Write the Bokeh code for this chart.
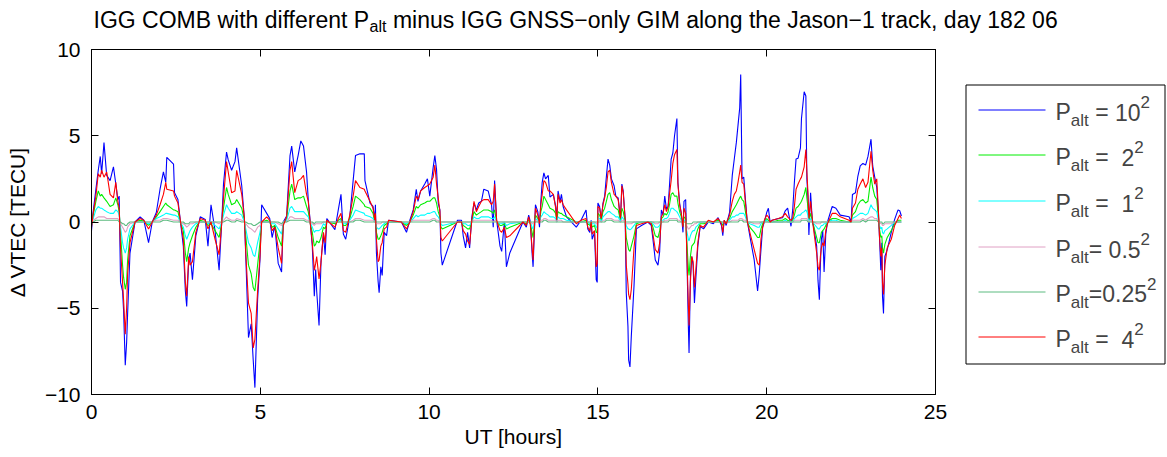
from bokeh.plotting import figure
from bokeh.models import Range1d, LinearAxis, FixedTicker, Label, CustomJSTickFormatter
from bokeh.layouts import row, column
from bokeh.core.properties import value
from bokeh.embed import file_html
from bokeh.resources import INLINE

FONT = "Liberation Sans"

# ---------------- data ----------------
ut_hours = [
    0.00, 0.05, 0.13, 0.20, 0.26, 0.30, 0.37, 0.45, 0.55, 0.65,
    0.72, 0.78, 0.82, 0.86, 0.92, 0.95, 1.00, 1.04, 1.07, 1.14,
    1.29, 1.44, 1.55, 1.69, 1.80, 1.92, 2.03, 2.13, 2.20, 2.23,
    2.43, 2.46, 2.56, 2.63, 2.72, 2.78, 2.82, 2.88, 2.92, 2.99,
    3.09, 3.22, 3.37, 3.45, 3.54, 3.66, 3.78, 3.86, 3.91, 4.00,
    4.05, 4.15, 4.25, 4.30, 4.45, 4.53, 4.57, 4.65, 4.73, 4.79,
    4.84, 4.92, 4.99, 5.04, 5.19, 5.28, 5.35, 5.43, 5.53, 5.63,
    5.68, 5.78, 5.88, 5.93, 6.02, 6.12, 6.20, 6.28, 6.37, 6.42,
    6.47, 6.54, 6.60, 6.64, 6.67, 6.74, 6.80, 6.87, 6.92, 6.97,
    7.21, 7.31, 7.39, 7.46, 7.53, 7.65, 7.75, 7.82, 7.95, 8.08,
    8.10, 8.25, 8.34, 8.39, 8.41, 8.44, 8.49, 8.52, 8.57, 8.61,
    8.67, 8.74, 8.80, 9.18, 9.33, 9.43, 9.53, 9.62, 9.67, 9.75,
    9.87, 9.95, 10.02, 10.12, 10.17, 10.22, 10.27, 10.32, 10.35, 10.39,
    10.84, 10.96, 11.01, 11.08, 11.14, 11.20, 11.26, 11.33, 11.40, 11.47,
    11.55, 11.62, 11.75, 11.85, 11.90, 11.94, 12.00, 12.10, 12.15, 12.23,
    12.29, 12.39, 12.78, 12.88, 12.95, 13.00, 13.05, 13.08, 13.12, 13.15,
    13.22, 13.27, 13.31, 13.35, 13.40, 13.45, 13.53, 13.58, 13.68, 13.75,
    13.78, 13.82, 13.88, 13.92, 13.97, 14.07, 14.36, 14.50, 14.65, 14.70,
    14.76, 14.80, 14.83, 14.90, 14.95, 14.98, 15.00, 15.05, 15.10, 15.15,
    15.20, 15.25, 15.30, 15.35, 15.40, 15.48, 15.53, 15.60, 15.67, 15.71,
    15.75, 15.81, 15.84, 15.89, 15.91, 15.95, 15.99, 16.07, 16.14, 16.29,
    16.48, 16.58, 16.63, 16.70, 16.78, 16.83, 16.88, 16.93, 16.98, 17.03,
    17.08, 17.12, 17.17, 17.22, 17.27, 17.34, 17.37, 17.42, 17.47, 17.52,
    17.55, 17.60, 17.63, 17.68, 17.70, 17.74, 17.78, 17.82, 17.86, 17.90,
    17.96, 18.03, 18.13, 18.27, 18.42, 18.56, 18.66, 18.70, 18.74, 18.80,
    18.90, 18.98, 19.04, 19.10, 19.15, 19.20, 19.23, 19.27, 19.32, 19.37,
    19.42, 19.50, 19.63, 19.73, 19.78, 19.83, 19.88, 19.93, 20.00, 20.05,
    20.10, 20.16, 20.35, 20.47, 20.55, 20.62, 20.72, 20.77, 20.82, 20.87,
    20.93, 21.00, 21.03, 21.11, 21.16, 21.19, 21.22, 21.25, 21.30, 21.35,
    21.40, 21.48, 21.52, 21.56, 21.59, 21.62, 21.66, 21.70, 21.75, 21.80,
    21.94, 22.05, 22.18, 22.44, 22.50, 22.54, 22.63, 22.70, 22.77, 22.85,
    22.93, 23.00, 23.09, 23.14, 23.20, 23.26, 23.31, 23.34, 23.38, 23.41,
    23.43, 23.46, 23.50, 23.57, 23.69, 23.79, 23.89, 23.94, 23.99,
]

# P_alt = 10^2 (blue)
d_p10 = [
    -0.5, 0.6, 1.9, 3.0, 3.8, 2.8, 4.6, 2.7, 2.4, 3.2,
    2.2, 1.3, 1.5, -3.5, -4.0, -5.1, -8.3, -7.0, -5.3, -1.8,
    0.0, 0.3, 0.1, -1.2, 0.0, 0.55, 1.9, 2.9, 2.3, 3.75,
    3.35, 1.7, 1.3, 0.1, -1.4, -4.0, -4.9, -2.2, -1.8, -3.35,
    -0.8, 0.3, 0.15, -1.4, 1.0, -0.5, -2.8, 0.1, 2.2, 4.05,
    3.6, 3.0, 3.5, 4.3, 2.1, 0.15, -2.0, -6.7, -5.9, -8.0,
    -9.6, -4.5, -2.2, 1.0, 0.5, 0.2, -0.9, -0.2, -2.4, -2.9,
    0.0, 0.35, 3.85, 4.4, 2.9, 3.85, 4.7, 4.4, 2.9, 1.3,
    0.2, -1.4, -4.3, -2.75, -4.0, -6.0, -2.2, -0.7, -1.9, 0.2,
    -0.45, 0.7, 1.6, -0.7, -1.0, 0.3, 2.4, 3.85, 3.95, 3.95,
    2.4, 1.1, 0.9, 0.1, 1.0, -1.8, -3.45, -4.1, -2.6, -3.1,
    -0.6, -0.8, 0.1, 0.0, -0.6, 0.1, 0.7, 1.9, 1.2, 1.8,
    2.2, 2.5, 1.5, 3.15, 3.85, 3.05, 1.1, 0.7, -1.8, -2.5,
    0.1, 0.1, -0.8, -1.5, -0.6, -1.5, 0.2, 1.1, 0.7, 1.1,
    1.2, 1.9, 1.8, 1.0, -0.3, 2.4, 0.1, -1.4, -1.7, 0.0,
    -2.6, -1.8, 0.0, -0.3, 0.4, 0.0, -1.8, -2.6, -0.5, 1.0,
    0.6, -0.3, 1.2, 2.3, 2.85, 2.5, 2.7, 1.45, 1.6, 0.9,
    0.1, 1.8, 1.2, 1.6, 0.9, 0.3, -0.3, 0.1, 0.7, -0.4,
    -0.6, 0.1, -1.0, -0.6, -3.35, -3.5, 1.1, 0.9, 0.1, 1.1,
    1.5, 2.6, 3.65, 3.3, 2.5, 2.1, 1.5, 1.4, 0.1, 2.2,
    1.8, 0.1, -4.1, -6.05, -8.0, -8.4, -6.6, -3.7, -0.4, -0.2,
    0.0, -0.2, -1.0, -2.2, -2.5, -1.7, 0.7, 0.4, 1.5, 0.75,
    0.9, 2.1, 3.65, 4.0, 5.0, 6.0, 2.3, 1.1, 0.5, -0.6,
    1.2, 1.3, -1.4, -6.1, -7.6, -3.2, -2.0, -2.5, -4.7, -3.3,
    -1.4, -0.25, -0.4, 0.0, -0.1, 0.25, -0.2, -0.8, 0.1, -0.2,
    0.55, 2.7, 3.65, 4.6, 5.6, 6.6, 8.55, 2.5, 2.6, 1.3,
    0.1, -0.8, -2.2, -4.0, -3.0, -1.6, -0.3, 0.0, 0.55, 0.8,
    0.0, 0.1, 0.2, 0.25, 0.65, 0.8, -0.25, 0.7, 2.3, 3.65,
    3.7, 4.3, 6.0, 7.55, 7.3, 2.5, 1.5, -0.75, 1.7, 0.1,
    -0.4, -1.4, -3.4, -4.5, -2.5, -1.0, -0.5, -2.9, -0.7, 0.0,
    0.9, 0.8, 0.4, 0.3, 0.0, 1.6, 1.7, 2.65, 3.25, 3.4,
    3.3, 3.8, 4.8, 3.25, 2.6, 2.0, 0.5, -0.85, -2.8, -1.2,
    -4.3, -5.3, -2.0, -1.6, -0.6, 0.15, 0.7, 0.65, 0.35,
]

# P_alt = 4^2 (red)
d_p4 = [
    -0.3, 0.5, 1.5, 2.8, 2.6, 3.0, 2.6, 2.9, 1.6, 1.4,
    2.3, 1.2, 0.8, -1.5, -3.5, -4.5, -6.5, -5.0, -3.0, -1.2,
    0.0, 0.2, 0.1, -0.4, 0.0, 0.4, 1.0, 1.6, 2.3, 1.9,
    1.8, 1.5, 1.1, 0.1, -1.0, -3.5, -4.3, -2.0, -2.5, -2.3,
    -0.6, 0.2, 0.1, -0.4, 0.0, -1.0, -1.9, 0.0, 1.4, 3.5,
    2.9, 1.7, 1.8, 3.0, 1.6, 0.2, -1.8, -4.7, -5.3, -7.3,
    -6.8, -4.0, -2.0, 0.0, 0.3, 0.1, -0.5, -0.3, -1.5, -2.4,
    -0.2, 0.3, 3.0, 3.5, 1.7, 2.4, 2.5, 2.7, 1.6, 1.2,
    0.1, -1.2, -2.8, -2.4, -2.0, -3.3, -2.3, -0.6, -1.2, 0.1,
    -0.3, 0.2, 0.5, -0.5, -0.6, 0.4, 1.5, 2.4, 2.0, 1.9,
    1.8, 1.2, 0.8, 0.1, 0.5, -1.0, -2.3, -2.2, -1.4, -1.2,
    -0.4, -0.3, 0.1, 0.0, -0.4, 0.0, 0.6, 1.5, 1.3, 1.8,
    2.0, 2.1, 2.2, 2.6, 3.3, 2.2, 1.4, 0.6, -0.9, -1.1,
    0.0, 0.0, -0.5, -0.7, -1.1, -1.3, 0.0, 1.2, 0.6, 0.9,
    1.2, 1.3, 1.3, 1.0, 1.2, 2.2, 0.1, -0.5, -0.6, -0.3,
    -0.9, -0.8, 0.0, -0.2, 0.3, -0.2, -1.5, -2.2, -0.3, 0.8,
    0.4, -0.1, 1.0, 1.6, 2.4, 2.3, 1.8, 1.8, 1.6, 0.8,
    0.1, 1.6, 1.1, 1.3, 1.0, 0.7, -0.1, 0.1, 0.2, -0.3,
    -0.5, 0.0, -0.7, -0.5, -2.6, -2.4, 0.9, 0.8, 0.2, 1.0,
    1.4, 2.0, 2.9, 3.0, 2.3, 1.6, 1.5, 1.3, 0.2, 2.1,
    1.7, 0.1, -2.5, -3.6, -4.2, -4.5, -3.9, -1.5, -0.2, -0.1,
    0.0, -0.1, -0.7, -1.6, -1.8, -1.2, 0.3, 0.5, 1.0, 0.6,
    0.9, 1.6, 2.4, 3.4, 3.9, 4.2, 2.2, 1.0, 0.5, -0.3,
    0.8, 0.5, -1.5, -4.8, -6.0, -3.5, -2.0, -2.3, -3.8, -2.8,
    -1.2, -0.2, -0.3, 0.1, 0.0, 0.2, -0.1, -0.6, 0.1, -0.1,
    0.4, 1.2, 1.6, 1.8, 2.3, 2.9, 3.3, 2.3, 2.2, 1.1,
    0.1, -0.6, -1.6, -2.4, -2.5, -1.0, -0.3, 0.1, 0.4, 0.3,
    0.0, 0.1, 0.2, 0.3, 0.5, 0.3, 0.1, 0.2, 0.9, 1.9,
    2.2, 2.5, 2.6, 3.2, 4.2, 2.9, 1.8, 0.2, 1.2, 0.2,
    -0.6, -1.8, -2.6, -2.8, -2.0, -1.5, -1.2, -1.4, -0.5, -0.1,
    0.5, 0.5, 0.3, 0.1, 0.0, 0.8, 1.1, 1.9, 2.2, 2.5,
    2.0, 2.3, 4.1, 3.0, 2.2, 2.5, 0.6, -0.8, -2.0, -1.5,
    -3.5, -4.2, -2.5, -1.5, -1.0, -0.2, 0.2, 0.4, 0.2,
]

# P_alt = 2^2 (green)
d_p2 = [
    -0.2, 0.4, 1.2, 1.8, 1.5, 1.6, 1.4, 1.2, 0.9, 1.0,
    1.4, 1.0, 0.6, -0.6, -2.5, -3.2, -3.9, -3.5, -2.2, -0.8,
    0.0, 0.1, 0.05, -0.2, 0.0, 0.3, 0.6, 0.9, 1.1, 1.0,
    0.7, 0.7, 0.6, 0.0, -0.5, -1.8, -2.3, -1.5, -1.2, -0.8,
    -0.3, 0.1, 0.0, -0.2, -0.1, -0.5, -0.9, 0.0, 0.8, 2.0,
    1.6, 1.0, 1.1, 1.3, 0.8, 0.1, -0.8, -2.5, -3.0, -3.8,
    -4.0, -2.5, -1.2, 0.0, 0.1, 0.0, -0.3, -0.2, -0.9, -1.4,
    -0.1, 0.2, 1.8, 2.2, 1.3, 1.4, 1.4, 1.5, 0.9, 0.6,
    0.0, -0.6, -1.4, -1.3, -1.1, -1.2, -0.9, -0.3, -0.4, 0.0,
    -0.1, 0.1, 0.2, -0.2, -0.2, 0.2, 0.9, 1.5, 1.3, 1.0,
    0.9, 0.8, 0.5, 0.0, 0.2, -0.6, -1.0, -1.0, -0.8, -0.6,
    -0.2, -0.1, 0.0, 0.0, -0.2, 0.0, 0.4, 0.9, 0.8, 1.0,
    1.1, 1.2, 1.2, 1.4, 1.4, 1.1, 0.6, 0.3, -0.3, -0.4,
    0.0, 0.0, -0.2, -0.3, -0.4, -0.4, 0.0, 0.6, 0.4, 0.5,
    0.6, 0.7, 0.7, 0.6, 0.5, 0.7, 0.0, -0.2, -0.2, -0.1,
    -0.4, -0.3, 0.0, -0.1, 0.1, -0.1, -0.6, -0.9, -0.1, 0.4,
    0.2, 0.0, 0.6, 0.9, 1.5, 1.3, 1.0, 0.8, 0.7, 0.5,
    0.1, 0.6, 0.5, 0.5, 0.4, 0.3, 0.0, 0.0, 0.1, -0.1,
    -0.2, 0.0, -0.3, -0.2, -0.6, -0.6, 0.5, 0.4, 0.1, 0.6,
    0.8, 1.2, 1.6, 1.7, 1.3, 0.9, 0.8, 0.7, 0.1, 0.8,
    0.6, 0.0, -0.9, -1.4, -1.6, -1.7, -1.4, -0.8, -0.1, 0.0,
    0.0, 0.0, -0.3, -0.8, -0.9, -0.5, 0.2, 0.3, 0.5, 0.4,
    0.6, 1.0, 1.6, 1.7, 1.5, 1.5, 1.1, 0.6, 0.3, -0.2,
    0.3, 0.2, -1.0, -2.7, -3.1, -2.0, -1.4, -1.3, -1.2, -0.8,
    -0.4, -0.1, -0.1, 0.0, 0.0, 0.1, 0.0, -0.2, 0.0, 0.0,
    0.2, 0.6, 0.8, 1.0, 1.2, 1.4, 1.5, 1.3, 1.2, 0.6,
    0.0, -0.3, -0.6, -0.9, -0.9, -0.4, -0.1, 0.0, 0.2, 0.1,
    0.0, 0.0, 0.1, 0.1, 0.2, 0.1, 0.0, 0.1, 0.4, 0.8,
    0.9, 1.1, 1.2, 1.6, 2.0, 1.4, 0.9, 0.1, 0.5, 0.1,
    -0.3, -0.9, -1.2, -1.2, -0.9, -0.6, -0.5, -0.4, -0.2, 0.0,
    0.2, 0.2, 0.1, 0.0, 0.0, 0.4, 0.6, 1.0, 1.2, 1.3,
    1.1, 1.2, 2.6, 2.0, 1.5, 1.3, 0.3, -0.4, -0.9, -0.8,
    -1.5, -1.8, -1.3, -0.9, -0.5, -0.1, 0.1, 0.1, 0.1,
]

# P_alt = 1^2 (cyan)
d_p1 = [
    -0.1, 0.2, 0.7, 0.9, 0.8, 0.8, 0.7, 0.6, 0.5, 0.5,
    0.7, 0.6, 0.4, -0.3, -1.2, -1.5, -1.8, -1.5, -1.0, -0.4,
    0.0, 0.0, 0.0, -0.1, 0.0, 0.2, 0.3, 0.4, 0.5, 0.5,
    0.4, 0.4, 0.3, 0.0, -0.3, -0.8, -1.0, -0.7, -0.5, -0.3,
    -0.1, 0.0, 0.0, -0.1, 0.0, -0.2, -0.4, 0.0, 0.4, 1.0,
    0.8, 0.5, 0.5, 0.6, 0.4, 0.0, -0.4, -1.2, -1.5, -1.9,
    -2.0, -1.2, -0.6, 0.0, 0.0, 0.0, -0.1, -0.1, -0.4, -0.7,
    0.0, 0.1, 0.8, 0.9, 0.6, 0.6, 0.6, 0.6, 0.4, 0.3,
    0.0, -0.3, -0.6, -0.5, -0.5, -0.5, -0.4, -0.1, -0.2, 0.0,
    0.0, 0.0, 0.1, -0.1, -0.1, 0.1, 0.4, 0.7, 0.6, 0.5,
    0.4, 0.3, 0.2, 0.0, 0.1, -0.3, -0.4, -0.4, -0.3, -0.2,
    -0.1, 0.0, 0.0, 0.0, -0.1, 0.0, 0.2, 0.4, 0.3, 0.4,
    0.4, 0.5, 0.5, 0.6, 0.6, 0.4, 0.3, 0.1, -0.1, -0.2,
    0.0, 0.0, -0.1, -0.1, -0.2, -0.2, 0.0, 0.3, 0.2, 0.2,
    0.3, 0.3, 0.3, 0.2, 0.2, 0.3, 0.0, -0.1, -0.1, 0.0,
    -0.2, -0.1, 0.0, 0.0, 0.0, 0.0, -0.3, -0.4, 0.0, 0.2,
    0.1, 0.0, 0.3, 0.4, 0.6, 0.5, 0.4, 0.3, 0.3, 0.2,
    0.0, 0.3, 0.2, 0.2, 0.2, 0.1, 0.0, 0.0, 0.0, 0.0,
    -0.1, 0.0, -0.1, -0.1, -0.3, -0.3, 0.2, 0.2, 0.0, 0.3,
    0.4, 0.5, 0.6, 0.6, 0.5, 0.4, 0.3, 0.3, 0.0, 0.3,
    0.2, 0.0, -0.2, -0.4, -0.4, -0.45, -0.4, -0.2, 0.0, 0.0,
    0.0, 0.0, -0.1, -0.3, -0.3, -0.2, 0.1, 0.1, 0.2, 0.2,
    0.3, 0.5, 0.8, 0.8, 0.7, 0.6, 0.5, 0.3, 0.1, -0.1,
    0.1, 0.1, -0.5, -1.0, -1.1, -0.8, -0.6, -0.5, -0.5, -0.3,
    -0.2, 0.0, 0.0, 0.0, 0.0, 0.0, 0.0, -0.1, 0.0, 0.0,
    0.1, 0.3, 0.3, 0.4, 0.4, 0.5, 0.5, 0.5, 0.5, 0.3,
    0.0, -0.1, -0.2, -0.3, -0.3, -0.1, 0.0, 0.0, 0.1, 0.0,
    0.0, 0.0, 0.0, 0.0, 0.1, 0.0, 0.0, 0.0, 0.2, 0.3,
    0.4, 0.4, 0.5, 0.6, 0.7, 0.6, 0.4, 0.0, 0.2, 0.0,
    -0.1, -0.3, -0.4, -0.4, -0.3, -0.2, -0.2, -0.1, -0.1, 0.0,
    0.1, 0.1, 0.0, 0.0, 0.0, 0.2, 0.3, 0.4, 0.5, 0.5,
    0.4, 0.5, 1.0, 0.8, 0.7, 0.6, 0.1, -0.2, -0.4, -0.3,
    -0.6, -0.7, -0.5, -0.4, -0.2, 0.0, 0.0, 0.0, 0.0,
]

# P_alt = 0.5^2 (pink)
d_p05 = [
    0.0, 0.1, 0.2, 0.3, 0.3, 0.3, 0.3, 0.2, 0.2, 0.2,
    0.2, 0.2, 0.1, -0.1, -0.3, -0.4, -0.6, -0.5, -0.3, -0.1,
    0.0, 0.0, 0.0, 0.0, 0.0, 0.1, 0.1, 0.2, 0.2, 0.2,
    0.1, 0.1, 0.1, 0.0, -0.1, -0.2, -0.3, -0.2, -0.1, -0.1,
    0.0, 0.0, 0.0, 0.0, 0.0, 0.0, -0.1, 0.0, 0.1, 0.3,
    0.2, 0.1, 0.1, 0.2, 0.1, 0.0, -0.1, -0.3, -0.4, -0.5,
    -0.6, -0.3, -0.2, 0.0, 0.0, 0.0, 0.0, 0.0, -0.1, -0.2,
    0.0, 0.0, 0.3, 0.3, 0.2, 0.2, 0.2, 0.2, 0.1, 0.1,
    0.0, -0.1, -0.2, -0.1, -0.1, -0.1, -0.1, 0.0, 0.0, 0.0,
    0.0, 0.0, 0.0, 0.0, 0.0, 0.0, 0.1, 0.2, 0.2, 0.1,
    0.1, 0.1, 0.1, 0.0, 0.0, -0.1, -0.1, -0.1, -0.1, 0.0,
    0.0, 0.0, 0.0, 0.0, 0.0, 0.0, 0.1, 0.1, 0.1, 0.1,
    0.1, 0.1, 0.1, 0.2, 0.2, 0.1, 0.1, 0.0, 0.0, 0.0,
    0.0, 0.0, 0.0, 0.0, 0.0, 0.0, 0.0, 0.1, 0.1, 0.1,
    0.1, 0.1, 0.1, 0.1, 0.0, 0.1, 0.0, 0.0, 0.0, 0.0,
    0.0, 0.0, 0.0, 0.0, 0.0, 0.0, -0.1, -0.1, 0.0, 0.1,
    0.0, 0.0, 0.1, 0.1, 0.2, 0.2, 0.1, 0.1, 0.1, 0.1,
    0.0, 0.1, 0.1, 0.1, 0.0, 0.0, 0.0, 0.0, 0.0, 0.0,
    0.0, 0.0, 0.0, 0.0, -0.1, -0.1, 0.1, 0.1, 0.0, 0.1,
    0.1, 0.2, 0.2, 0.2, 0.2, 0.1, 0.1, 0.1, 0.0, 0.1,
    0.1, 0.0, -0.1, -0.1, -0.1, -0.1, -0.1, 0.0, 0.0, 0.0,
    0.0, 0.0, 0.0, -0.1, -0.1, 0.0, 0.0, 0.0, 0.1, 0.1,
    0.1, 0.2, 0.2, 0.2, 0.2, 0.2, 0.1, 0.1, 0.0, 0.0,
    0.0, 0.0, -0.2, -0.4, -0.4, -0.3, -0.2, -0.2, -0.1, -0.1,
    0.0, 0.0, 0.0, 0.0, 0.0, 0.0, 0.0, 0.0, 0.0, 0.0,
    0.0, 0.1, 0.1, 0.1, 0.1, 0.2, 0.2, 0.2, 0.1, 0.1,
    0.0, 0.0, -0.1, -0.1, -0.1, 0.0, 0.0, 0.0, 0.0, 0.0,
    0.0, 0.0, 0.0, 0.0, 0.0, 0.0, 0.0, 0.0, 0.1, 0.1,
    0.1, 0.1, 0.2, 0.2, 0.2, 0.2, 0.1, 0.0, 0.1, 0.0,
    0.0, -0.1, -0.1, -0.1, -0.1, 0.0, 0.0, 0.0, 0.0, 0.0,
    0.0, 0.0, 0.0, 0.0, 0.0, 0.1, 0.1, 0.1, 0.1, 0.2,
    0.1, 0.2, 0.3, 0.3, 0.2, 0.2, 0.0, 0.0, -0.1, -0.1,
    -0.2, -0.2, -0.1, -0.1, -0.1, 0.0, 0.0, 0.0, 0.0,
]

# P_alt = 0.25^2 (sea green)
d_p025 = [
    0.0, 0.0, 0.1, 0.1, 0.1, 0.1, 0.1, 0.1, 0.1, 0.1,
    0.1, 0.1, 0.0, 0.0, -0.1, -0.1, -0.2, -0.2, -0.1, 0.0,
    0.0, 0.0, 0.0, 0.0, 0.0, 0.0, 0.0, 0.1, 0.1, 0.1,
    0.0, 0.0, 0.0, 0.0, 0.0, -0.1, -0.1, -0.1, 0.0, 0.0,
    0.0, 0.0, 0.0, 0.0, 0.0, 0.0, 0.0, 0.0, 0.0, 0.1,
    0.1, 0.0, 0.0, 0.1, 0.0, 0.0, 0.0, -0.1, -0.1, -0.2,
    -0.2, -0.1, 0.0, 0.0, 0.0, 0.0, 0.0, 0.0, 0.0, -0.1,
    0.0, 0.0, 0.1, 0.1, 0.1, 0.1, 0.1, 0.1, 0.0, 0.0,
    0.0, 0.0, -0.1, 0.0, 0.0, 0.0, 0.0, 0.0, 0.0, 0.0,
    0.0, 0.0, 0.0, 0.0, 0.0, 0.0, 0.0, 0.1, 0.1, 0.0,
    0.0, 0.0, 0.0, 0.0, 0.0, 0.0, 0.0, 0.0, 0.0, 0.0,
    0.0, 0.0, 0.0, 0.0, 0.0, 0.0, 0.0, 0.0, 0.0, 0.0,
    0.0, 0.0, 0.0, 0.1, 0.1, 0.0, 0.0, 0.0, 0.0, 0.0,
    0.0, 0.0, 0.0, 0.0, 0.0, 0.0, 0.0, 0.0, 0.0, 0.0,
    0.0, 0.0, 0.0, 0.0, 0.0, 0.0, 0.0, 0.0, 0.0, 0.0,
    0.0, 0.0, 0.0, 0.0, 0.0, 0.0, 0.0, 0.0, 0.0, 0.0,
    0.0, 0.0, 0.0, 0.0, 0.1, 0.1, 0.0, 0.0, 0.0, 0.0,
    0.0, 0.0, 0.0, 0.0, 0.0, 0.0, 0.0, 0.0, 0.0, 0.0,
    0.0, 0.0, 0.0, 0.0, 0.0, 0.0, 0.0, 0.0, 0.0, 0.0,
    0.0, 0.1, 0.1, 0.1, 0.1, 0.0, 0.0, 0.0, 0.0, 0.0,
    0.0, 0.0, 0.0, 0.0, 0.0, 0.0, 0.0, 0.0, 0.0, 0.0,
    0.0, 0.0, 0.0, 0.0, 0.0, 0.0, 0.0, 0.0, 0.0, 0.0,
    0.0, 0.1, 0.1, 0.1, 0.1, 0.1, 0.0, 0.0, 0.0, 0.0,
    0.0, 0.0, -0.1, -0.1, -0.1, -0.1, -0.1, 0.0, 0.0, 0.0,
    0.0, 0.0, 0.0, 0.0, 0.0, 0.0, 0.0, 0.0, 0.0, 0.0,
    0.0, 0.0, 0.0, 0.0, 0.0, 0.1, 0.1, 0.1, 0.0, 0.0,
    0.0, 0.0, 0.0, 0.0, 0.0, 0.0, 0.0, 0.0, 0.0, 0.0,
    0.0, 0.0, 0.0, 0.0, 0.0, 0.0, 0.0, 0.0, 0.0, 0.0,
    0.0, 0.0, 0.1, 0.1, 0.1, 0.1, 0.0, 0.0, 0.0, 0.0,
    0.0, 0.0, 0.0, 0.0, 0.0, 0.0, 0.0, 0.0, 0.0, 0.0,
    0.0, 0.0, 0.0, 0.0, 0.0, 0.0, 0.0, 0.0, 0.0, 0.1,
    0.0, 0.1, 0.1, 0.1, 0.1, 0.1, 0.0, 0.0, 0.0, 0.0,
    -0.1, -0.1, 0.0, 0.0, 0.0, 0.0, 0.0, 0.0, 0.0,
]

x_ticks = [0, 5, 10, 15, 20, 25]
y_ticks = [-10, -5, 0, 5, 10]
y_tick_text = {-10: "\u221210", -5: "\u22125", 0: "0", 5: "5", 10: "10"}

title_parts = ["IGG COMB with different P", "alt",
               " minus IGG GNSS\u2212only GIM along the Jason\u22121 track, day 182 06"]
x_label = "UT [hours]"
y_label = "\u0394 VTEC [TECU]"

# legend order == drawing order
series_values = [d_p10, d_p2, d_p1, d_p05, d_p025, d_p4]
series_colors = ["#0000FF", "#00EE00", "#00FFFF", "#E0A0C4", "#5DBB80", "#FF0000"]
legend_rest = [" = 10", " =  2", " =  1", "= 0.5", "=0.25", " =  4"]

n = len(ut_hours)
assert all(len(v) == n for v in series_values), [len(v) for v in series_values]

# ---------------- text width helper (Liberation Sans / Arial metrics) -------------
W = {" ": 278, "=": 584, ".": 278, ",": 278, "[": 278, "]": 278, "\u2212": 584,
     "A": 667, "B": 667, "C": 722, "D": 722, "E": 667, "G": 778, "I": 278, "J": 500,
     "M": 833, "N": 722, "O": 778, "P": 667, "S": 667, "T": 611, "U": 722,
     "a": 556, "b": 556, "c": 500, "d": 556, "e": 556, "f": 278, "g": 556, "h": 556,
     "i": 222, "k": 500, "l": 222, "m": 833, "n": 556, "o": 556, "r": 333, "s": 500,
     "t": 278, "u": 556, "w": 722, "y": 500}


def tw(s, size):
    return sum(W.get(ch, 556) for ch in s) / 1000.0 * size


# geometry in page pixels (Bokeh's page has no body margin):
# plot frame x 91..935, y 49..394 ; legend box x 965..1165, y 84..363
TOTAL_W, TOTAL_H = 1167, 457
TITLE_H = 34
ROW_H = TOTAL_H - TITLE_H
MAIN_W = 960
LEG_W = TOTAL_W - MAIN_W
FR_TOP, FR_BOT = 49, 394
BORDER_TOP = FR_TOP - TITLE_H
BORDER_BOTTOM = TOTAL_H - FR_BOT
# measured downward shift of "alphabetic" text in this renderer
T_SHIFT = 6
L_SHIFT = 9

# ---------------- title strip ----------------
tf = figure(width=TOTAL_W, height=TITLE_H, x_range=Range1d(0, TOTAL_W), y_range=Range1d(0, TITLE_H),
            output_backend="svg", toolbar_location=None, x_axis_type=None, y_axis_type=None,
            title_location=None,
            min_border_left=0, min_border_right=0, min_border_top=0, min_border_bottom=0)
tf.xgrid.visible = False
tf.ygrid.visible = False
tf.outline_line_color = None
tf.border_fill_color = "white"

T_SIZE = 23
SUB_SIZE = 16
tx0 = 93
base_y = TITLE_H - 25 + T_SHIFT
sub_y = TITLE_H - 31.5 + T_SHIFT
tx1 = tx0 + tw(title_parts[0], T_SIZE)
tx2 = tx1 + tw(title_parts[1], SUB_SIZE) + tw(" ", T_SIZE)
tf.text(x=[tx0, tx2], y=[base_y, base_y], text=[title_parts[0], title_parts[2].lstrip()],
        text_font=value(FONT), text_font_size=value(f"{T_SIZE}px"),
        text_baseline="alphabetic", text_align="left", text_color="black")
tf.text(x=[tx1], y=[sub_y], text=[title_parts[1]],
        text_font=value(FONT), text_font_size=value(f"{SUB_SIZE}px"),
        text_baseline="alphabetic", text_align="left", text_color="black")

# ---------------- main plot ----------------
p = figure(width=MAIN_W, height=ROW_H, x_range=Range1d(0, 25), y_range=Range1d(-10, 10),
           output_backend="svg", toolbar_location=None, title_location=None,
           min_border_left=91, min_border_right=MAIN_W - 935, min_border_top=BORDER_TOP,
           min_border_bottom=BORDER_BOTTOM)
p.xgrid.visible = False
p.ygrid.visible = False
p.outline_line_color = "black"
p.outline_line_width = 1
p.background_fill_color = "white"
p.border_fill_color = "white"

for ax in (p.xaxis[0], p.yaxis[0]):
    ax.axis_line_color = "black"
    ax.major_tick_line_color = "black"
    ax.major_tick_in = 7
    ax.major_tick_out = 0
    ax.minor_tick_line_color = None
    ax.major_label_text_font = FONT
    ax.major_label_text_font_size = "21px"
    ax.major_label_text_color = "black"
    ax.axis_label_text_font = FONT
    ax.axis_label_text_font_size = "21px"
    ax.axis_label_text_font_style = "normal"
    ax.axis_label_text_color = "black"

p.xaxis.ticker = FixedTicker(ticks=x_ticks)
p.yaxis.ticker = FixedTicker(ticks=y_ticks)
p.yaxis.major_label_overrides = y_tick_text
p.xaxis.axis_label = x_label
p.yaxis.axis_label = y_label
p.xaxis.major_label_standoff = 10
p.xaxis.axis_label_standoff = 3
p.yaxis.major_label_standoff = 11
p.yaxis.axis_label_standoff = 13

blank = CustomJSTickFormatter(code="return ''")
top_ax = LinearAxis(ticker=FixedTicker(ticks=x_ticks), formatter=blank,
                    major_tick_in=7, major_tick_out=0, minor_tick_line_color=None,
                    axis_line_color="black", major_label_standoff=0)
right_ax = LinearAxis(ticker=FixedTicker(ticks=y_ticks), formatter=blank,
                      major_tick_in=7, major_tick_out=0, minor_tick_line_color=None,
                      axis_line_color="black", major_label_standoff=0)
p.add_layout(top_ax, "above")
p.add_layout(right_ax, "right")

for vals, col in zip(series_values, series_colors):
    p.line(ut_hours, vals, line_color=col, line_width=1.1)

# ---------------- legend panel (frame rows aligned with the plot) ----------------
FRAME_H = FR_BOT - FR_TOP
lg = figure(width=LEG_W, height=ROW_H, x_range=Range1d(0, LEG_W), y_range=Range1d(0, FRAME_H),
            output_backend="svg", toolbar_location=None, x_axis_type=None, y_axis_type=None,
            title_location=None,
            min_border_left=0, min_border_right=0, min_border_top=BORDER_TOP,
            min_border_bottom=BORDER_BOTTOM)
lg.xgrid.visible = False
lg.ygrid.visible = False
lg.outline_line_color = None
lg.border_fill_color = "white"
lg.background_fill_color = "white"

# data units of this panel are page pixels: x = page_x - MAIN_W, y = FR_BOT - page_y
lg.quad(left=[965.5 - MAIN_W], right=[1164.5 - MAIN_W], bottom=[FR_BOT - 363.5],
        top=[FR_BOT - 84.5], fill_color="white", line_color="black", line_width=1)

L_SIZE = 23
L_SUB = 17
for i, (col, rest) in enumerate(zip(series_colors, legend_rest)):
    page_y = round(109 + 45.5 * i) + 0.5
    yc = FR_BOT - page_y
    lg.segment(x0=[978 - MAIN_W], y0=[yc], x1=[1045 - MAIN_W], y1=[yc],
               line_color=col, line_width=1)
    yt = yc + L_SHIFT
    xp = 1055 - MAIN_W
    lg.add_layout(Label(x=xp, y=yt - 11, text="P", text_font=FONT,
                        text_font_size=f"{L_SIZE}px", text_baseline="alphabetic"))
    xs = xp + tw("P", L_SIZE)
    lg.add_layout(Label(x=xs, y=yt - 19, text="alt", text_font=FONT,
                        text_font_size=f"{L_SUB}px", text_baseline="alphabetic"))
    xr = xs + tw("alt", L_SUB)
    cur = xr
    token = ""
    tok_start = cur
    for ch in rest + " ":
        if ch == " ":
            if token:
                lg.add_layout(Label(x=tok_start, y=yt - 11, text=token, text_font=FONT,
                                    text_font_size=f"{L_SIZE}px", text_baseline="alphabetic"))
                token = ""
            cur += tw(" ", L_SIZE)
        else:
            if not token:
                tok_start = cur
            token += ch
            cur += tw(ch, L_SIZE)
    xsup = xr + tw(rest, L_SIZE)
    lg.add_layout(Label(x=xsup, y=yt - 1, text="2", text_font=FONT,
                        text_font_size=f"{L_SUB}px", text_baseline="alphabetic"))

layout = column(tf, row(p, lg))
open("out.html", "w").write(file_html(layout, INLINE))
